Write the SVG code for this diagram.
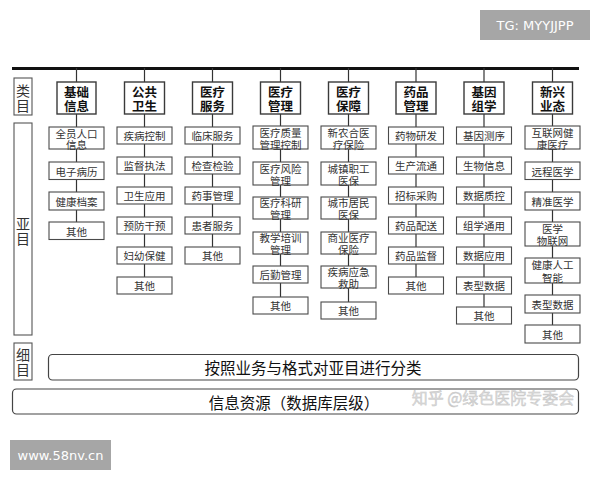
<svg xmlns="http://www.w3.org/2000/svg" width="600" height="480" viewBox="0 0 600 480">
<style>
text{font-family:"Noto Sans CJK SC","Noto Sans",sans-serif;text-anchor:middle;dominant-baseline:central}
.hdr rect{fill:#fff;stroke:#3a3a3a;stroke-width:1.4}
.hdr text{font-size:12.5px;font-weight:bold;fill:#111}
.item rect{fill:#fff;stroke:#4a4a4a;stroke-width:1.1}
.item text{font-size:10.5px;fill:#333}
.lab rect{fill:#fff;stroke:#555;stroke-width:1.1}
.lab text{font-size:14px;fill:#333}
.conn line{stroke:#333;stroke-width:1.2}
.band rect{fill:#fff;stroke:#444;stroke-width:1.2}
.band text{font-size:15.5px;fill:#111}
.wm rect{fill:#a6a6a6}
.wm text{font-size:13px;fill:#fff;font-family:"DejaVu Sans","Noto Sans",sans-serif}
</style>
<rect width="600" height="480" fill="#fff"/>
<g id="connectors" class="conn">
<line x1="12" y1="68.5" x2="579" y2="68.5" style="stroke:#111;stroke-width:3"/>
<line x1="76.5" y1="68" x2="76.5" y2="222"/>
<line x1="144.5" y1="68" x2="144.5" y2="277"/>
<line x1="212.5" y1="68" x2="212.5" y2="247"/>
<line x1="280.5" y1="68" x2="280.5" y2="297"/>
<line x1="348.5" y1="68" x2="348.5" y2="302"/>
<line x1="416" y1="68" x2="416" y2="277"/>
<line x1="484" y1="68" x2="484" y2="307"/>
<line x1="552.5" y1="68" x2="552.5" y2="325"/>
</g>
<g id="lab-leimu" class="lab"><rect x="14" y="78" width="18" height="37"/><text x="23" y="90">类<tspan x="23" y="105">目</tspan></text></g>
<g id="lab-yamu" class="lab"><rect x="14" y="123" width="18" height="212"/><text x="23" y="223">亚<tspan x="23" y="238">目</tspan></text></g>
<g id="lab-ximu" class="lab"><rect x="14" y="343" width="18" height="37"/><text x="23" y="354">细<tspan x="23" y="369">目</tspan></text></g>

<g id="h1" class="hdr"><rect x="57" y="82" width="39" height="32"/><text x="76.5" y="91.5">基础<tspan x="76.5" y="105">信息</tspan></text></g>
<g id="h2" class="hdr"><rect x="124.5" y="82" width="40" height="32"/><text x="144.5" y="91.5">公共<tspan x="144.5" y="105">卫生</tspan></text></g>
<g id="h3" class="hdr"><rect x="192.5" y="82" width="40" height="32"/><text x="212.5" y="91.5">医疗<tspan x="212.5" y="105">服务</tspan></text></g>
<g id="h4" class="hdr"><rect x="260.5" y="82" width="40" height="32"/><text x="280.5" y="91.5">医疗<tspan x="280.5" y="105">管理</tspan></text></g>
<g id="h5" class="hdr"><rect x="328.5" y="82" width="40" height="32"/><text x="348.5" y="91.5">医疗<tspan x="348.5" y="105">保障</tspan></text></g>
<g id="h6" class="hdr"><rect x="396" y="82" width="40" height="32"/><text x="416" y="91.5">药品<tspan x="416" y="105">管理</tspan></text></g>
<g id="h7" class="hdr"><rect x="464" y="82" width="40" height="32"/><text x="484" y="91.5">基因<tspan x="484" y="105">组学</tspan></text></g>
<g id="h8" class="hdr"><rect x="532.5" y="82" width="40" height="32"/><text x="552.5" y="91.5">新兴<tspan x="552.5" y="105">业态</tspan></text></g>

<!-- column 1 -->
<g id="c1-1" class="item"><rect x="49" y="127" width="55" height="22"/><text x="76.5" y="133">全员人口<tspan x="76.5" y="144">信息</tspan></text></g>
<g id="c1-2" class="item"><rect x="49" y="162" width="55" height="17.5"/><text x="76.5" y="171">电子病历</text></g>
<g id="c1-3" class="item"><rect x="49" y="192" width="55" height="18"/><text x="76.5" y="201">健康档案</text></g>
<g id="c1-4" class="item"><rect x="49" y="222" width="55" height="17.5"/><text x="76.5" y="231">其他</text></g>
<!-- column 2 -->
<g id="c2-1" class="item"><rect x="117" y="127" width="55" height="17"/><text x="144.5" y="135.5">疾病控制</text></g>
<g id="c2-2" class="item"><rect x="117" y="157" width="55" height="17"/><text x="144.5" y="165.5">监督执法</text></g>
<g id="c2-3" class="item"><rect x="117" y="187" width="55" height="17"/><text x="144.5" y="195.5">卫生应用</text></g>
<g id="c2-4" class="item"><rect x="117" y="217" width="55" height="17"/><text x="144.5" y="225.5">预防干预</text></g>
<g id="c2-5" class="item"><rect x="117" y="247" width="55" height="17"/><text x="144.5" y="255.5">妇幼保健</text></g>
<g id="c2-6" class="item"><rect x="117" y="277" width="55" height="17"/><text x="144.5" y="285.5">其他</text></g>
<!-- column 3 -->
<g id="c3-1" class="item"><rect x="185" y="127" width="55" height="17"/><text x="212.5" y="135.5">临床服务</text></g>
<g id="c3-2" class="item"><rect x="185" y="157" width="55" height="17"/><text x="212.5" y="165.5">检查检验</text></g>
<g id="c3-3" class="item"><rect x="185" y="187" width="55" height="17"/><text x="212.5" y="195.5">药事管理</text></g>
<g id="c3-4" class="item"><rect x="185" y="217" width="55" height="17"/><text x="212.5" y="225.5">患者服务</text></g>
<g id="c3-5" class="item"><rect x="185" y="247" width="55" height="17"/><text x="212.5" y="255.5">其他</text></g>
<!-- column 4 -->
<g id="c4-1" class="item"><rect x="253" y="126" width="55" height="23"/><text x="280.5" y="132">医疗质量<tspan x="280.5" y="143.5">管理控制</tspan></text></g>
<g id="c4-2" class="item"><rect x="253" y="162" width="55" height="23"/><text x="280.5" y="168">医疗风险<tspan x="280.5" y="179.5">管理</tspan></text></g>
<g id="c4-3" class="item"><rect x="253" y="197" width="55" height="22"/><text x="280.5" y="202.5">医疗科研<tspan x="280.5" y="213.5">管理</tspan></text></g>
<g id="c4-4" class="item"><rect x="253" y="232" width="55" height="22"/><text x="280.5" y="237.5">教学培训<tspan x="280.5" y="248.5">管理</tspan></text></g>
<g id="c4-5" class="item"><rect x="253" y="266" width="55" height="17"/><text x="280.5" y="274.5">后勤管理</text></g>
<g id="c4-6" class="item"><rect x="253" y="297" width="55" height="17"/><text x="280.5" y="305.5">其他</text></g>
<!-- column 5 -->
<g id="c5-1" class="item"><rect x="321" y="126" width="55" height="23"/><text x="348.5" y="132">新农合医<tspan x="348.5" y="143.5">疗保险</tspan></text></g>
<g id="c5-2" class="item"><rect x="321" y="162" width="55" height="23"/><text x="348.5" y="168">城镇职工<tspan x="348.5" y="179.5">医保</tspan></text></g>
<g id="c5-3" class="item"><rect x="321" y="197" width="55" height="22"/><text x="348.5" y="202.5">城市居民<tspan x="348.5" y="213.5">医保</tspan></text></g>
<g id="c5-4" class="item"><rect x="321" y="232" width="55" height="22"/><text x="348.5" y="237.5">商业医疗<tspan x="348.5" y="248.5">保险</tspan></text></g>
<g id="c5-5" class="item"><rect x="321" y="266" width="55" height="22"/><text x="348.5" y="271.5">疾病应急<tspan x="348.5" y="282.5">救助</tspan></text></g>
<g id="c5-6" class="item"><rect x="321" y="302" width="55" height="17"/><text x="348.5" y="310.5">其他</text></g>
<!-- column 6 -->
<g id="c6-1" class="item"><rect x="388.5" y="127" width="55" height="17"/><text x="416" y="135.5">药物研发</text></g>
<g id="c6-2" class="item"><rect x="388.5" y="157" width="55" height="17"/><text x="416" y="165.5">生产流通</text></g>
<g id="c6-3" class="item"><rect x="388.5" y="187" width="55" height="17"/><text x="416" y="195.5">招标采购</text></g>
<g id="c6-4" class="item"><rect x="388.5" y="217" width="55" height="17"/><text x="416" y="225.5">药品配送</text></g>
<g id="c6-5" class="item"><rect x="388.5" y="247" width="55" height="17"/><text x="416" y="255.5">药品监督</text></g>
<g id="c6-6" class="item"><rect x="388.5" y="277" width="55" height="17"/><text x="416" y="285.5">其他</text></g>
<!-- column 7 -->
<g id="c7-1" class="item"><rect x="456.5" y="127" width="55" height="17"/><text x="484" y="135.5">基因测序</text></g>
<g id="c7-2" class="item"><rect x="456.5" y="157" width="55" height="17"/><text x="484" y="165.5">生物信息</text></g>
<g id="c7-3" class="item"><rect x="456.5" y="187" width="55" height="17"/><text x="484" y="195.5">数据质控</text></g>
<g id="c7-4" class="item"><rect x="456.5" y="217" width="55" height="17"/><text x="484" y="225.5">组学通用</text></g>
<g id="c7-5" class="item"><rect x="456.5" y="247" width="55" height="17"/><text x="484" y="255.5">数据应用</text></g>
<g id="c7-6" class="item"><rect x="456.5" y="277" width="55" height="17"/><text x="484" y="285.5">表型数据</text></g>
<g id="c7-7" class="item"><rect x="456.5" y="307" width="55" height="17"/><text x="484" y="315.5">其他</text></g>
<!-- column 8 -->
<g id="c8-1" class="item"><rect x="525" y="126" width="55" height="23"/><text x="552.5" y="132">互联网健<tspan x="552.5" y="143.5">康医疗</tspan></text></g>
<g id="c8-2" class="item"><rect x="525" y="162" width="55" height="17.5"/><text x="552.5" y="171">远程医学</text></g>
<g id="c8-3" class="item"><rect x="525" y="192" width="55" height="18"/><text x="552.5" y="201">精准医学</text></g>
<g id="c8-4" class="item"><rect x="525" y="222" width="55" height="24"/><text x="552.5" y="228">医学<tspan x="552.5" y="240">物联网</tspan></text></g>
<g id="c8-5" class="item"><rect x="525" y="258" width="55" height="25"/><text x="552.5" y="264.5">健康人工<tspan x="552.5" y="276.5">智能</tspan></text></g>
<g id="c8-6" class="item"><rect x="525" y="295" width="55" height="18"/><text x="552.5" y="304">表型数据</text></g>
<g id="c8-7" class="item"><rect x="525" y="325" width="55" height="18"/><text x="552.5" y="334">其他</text></g>

<g id="band-ximu" class="band"><rect x="48.5" y="354.5" width="530" height="25.5" rx="4"/><text x="313" y="367">按照业务与格式对亚目进行分类</text></g>
<g id="band-resource" class="band"><rect x="12.5" y="389" width="566" height="25" rx="4"/><text x="294" y="402">信息资源（数据库层级）</text></g>

<text x="493" y="397" style="font-size:16px;fill:#dadada;stroke:#c4c4c4;stroke-width:0.4">知乎 @绿色医院专委会</text>

<g id="wm-tg" class="wm"><rect x="480" y="10" width="110" height="30"/><text x="535" y="25.5">TG: MYYJJPP</text></g>
<g id="wm-site" class="wm"><rect x="10" y="440" width="101" height="30"/><text x="60.5" y="455.5">www.58nv.cn</text></g>
</svg>
